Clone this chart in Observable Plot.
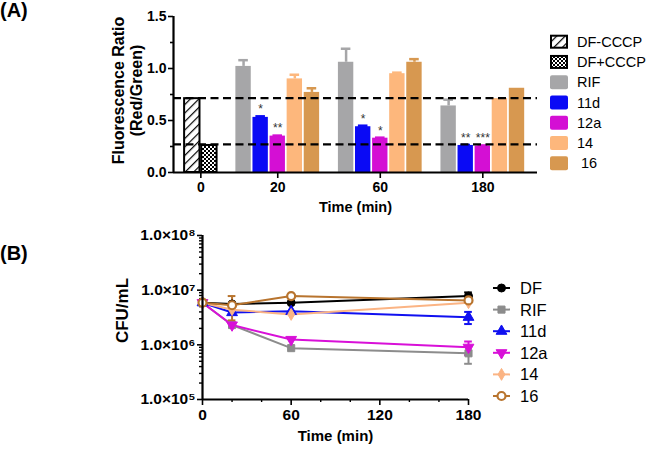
<!DOCTYPE html>
<html><head><meta charset="utf-8">
<script src="https://cdn.jsdelivr.net/npm/d3@7"></script>
<script src="https://cdn.jsdelivr.net/npm/@observablehq/plot@0.6"></script>
<style>
body{margin:0;background:#fff;}
#wrap{position:relative;width:647px;height:452px;overflow:hidden;font-family:"Liberation Sans",Arial,sans-serif;}
.panel{position:absolute;left:0;}
.plab{position:absolute;left:0;font-weight:bold;font-size:20px;line-height:20px;}
.leg{position:absolute;}
</style></head><body>
<svg width="0" height="0" style="position:absolute">
<defs>
<pattern id="hatch" patternUnits="userSpaceOnUse" width="6" height="6" patternTransform="rotate(45)">
<rect width="6" height="6" fill="#fff"/><line x1="0" y1="0" x2="0" y2="6" stroke="#000" stroke-width="2.4"/>
</pattern>
<pattern id="checker" patternUnits="userSpaceOnUse" width="4" height="4">
<rect width="4" height="4" fill="#000"/><rect width="2" height="2" fill="#fff"/><rect x="2" y="2" width="2" height="2" fill="#fff"/>
</pattern>
</defs>
</svg>
<div id="wrap">
<div class="plab" style="top:0px">(A)</div>
<div class="plab" style="top:243px">(B)</div>
</div>
<script>
// ---------- Panel A data ----------
const ctrlSeries = ["DF-CCCP", "DF+CCCP"];
const ctrlValues = [0.71, 0.26];
const drugSeries = ["RIF", "11d", "12a", "14", "16"];
const drugTimes = ["20", "60", "180"];
const drugValues = [
  [1.02, 1.06, 0.64],   // RIF
  [0.53, 0.44, 0.26],   // 11d
  [0.35, 0.33, 0.255],  // 12a
  [0.90, 0.95, 0.71],   // 14
  [0.77, 1.06, 0.81]    // 16
];
const drugErrors = [
  [0.06, 0.13, 0.06],
  [0.01, 0.01, 0.005],
  [0.005, 0.005, 0.005],
  [0.04, 0.01, 0.0],
  [0.04, 0.03, 0.0]
];
const drugSig = [
  ["", "", ""],
  ["*", "*", "**"],
  ["**", "*", "***"],
  ["", "", ""],
  ["", "", ""]
];
const thresholdsA = [0.715, 0.27];
const yTicksA = [0, 0.5, 1.0, 1.5];
const yMinorA = [0.25, 0.75, 1.25];
const fillA = {"DF-CCCP": "url(#hatch)", "DF+CCCP": "url(#checker)", "RIF": "#a6a6a8", "11d": "#0a0af5", "12a": "#d40fd4", "14": "#fdb77c", "16": "#d79850"};

// ---------- Panel B data ----------
const timesB = [0, 20, 60, 180];
const seriesB = ["DF", "RIF", "11d", "12a", "14", "16"];
const cfuB = [
  [5.9e6, 5.6e6, 5.9e6, 7.8e6],  // DF
  [5.9e6, 2.3e6, 8.7e5, 7.0e5],  // RIF
  [5.9e6, 3.9e6, 4.1e6, 3.2e6],  // 11d
  [5.9e6, 2.3e6, 1.25e6, 9.0e5], // 12a
  [5.9e6, 4.4e6, 3.6e6, 5.9e6],  // 14
  [5.9e6, 5.3e6, 7.8e6, 6.5e6]   // 16
];
const errB = [
  [0, 0, 0, 1.3e6],
  [0, 0, 0, 2.5e5],
  [0, 0, 0, 0.8e6],
  [0, 0, 0, 2.5e5],
  [0, 0, 0, 0],
  [0, 2.5e6, 0, 0]
];
const colorB = {"DF": "#000000", "RIF": "#8c8c8c", "11d": "#1010f0", "12a": "#d810d8", "14": "#fbb484", "16": "#b8742e"};
const yTicksB = [1e5, 1e6, 1e7, 1e8];
const xTicksB = [0, 60, 120, 180];
const xMinorB = [20, 40, 80, 100, 140, 160];

const FONT = '"Liberation Sans", Arial, sans-serif';

// ---------- build panel A table (slot layout) ----------
const bars = [];
const groupTicks = [];
let slot = 0;
{
  const start = slot;
  ctrlSeries.forEach((s, i) => bars.push({slot: slot++, series: s, value: ctrlValues[i], err: 0, sig: "", patterned: true}));
  groupTicks.push({label: "0", pos: (start + slot) / 2});
  slot++;
}
drugTimes.forEach((t, ti) => {
  const start = slot;
  drugSeries.forEach((s, si) => bars.push({slot: slot++, series: s, value: drugValues[si][ti], err: drugErrors[si][ti], sig: drugSig[si][ti], patterned: false}));
  groupTicks.push({label: t, pos: (start + slot) / 2});
  slot++;
});
const xDomainA = [-0.6, slot - 1 + 0.7];
const tickLabelA = new Map(groupTicks.map(d => [d.pos, d.label]));
const inset = 0.05;

const plotA = Plot.plot({
  width: 647, height: 220,
  marginLeft: 173, marginRight: 110, marginTop: 16, marginBottom: 48,
  x: {domain: xDomainA, label: null},
  y: {domain: [0, 1.5], label: null},
  color: {type: "identity"},
  style: {fontFamily: FONT, background: "transparent", color: "#000"},
  marks: [
    Plot.rect(bars, {x1: d => d.slot + inset, x2: d => d.slot + 1 - inset, y1: d => 0, y2: "value",
      fill: d => fillA[d.series], stroke: d => d.patterned ? "#000" : "none", strokeWidth: 2}),
    Plot.ruleX(bars.filter(d => d.err > 0), {x: d => d.slot + 0.5, y1: "value", y2: d => d.value + d.err, stroke: d => fillA[d.series], strokeWidth: 2.5}),
    Plot.ruleY(bars.filter(d => d.err > 0), {y: d => d.value + d.err, x1: d => d.slot + 0.22, x2: d => d.slot + 0.78, stroke: d => fillA[d.series], strokeWidth: 2.5}),
    Plot.text(bars.filter(d => d.sig), {x: d => d.slot + 0.5, y: d => d.value + d.err, text: "sig", dy: -7, fontSize: 12, fill: "#333"}),
    Plot.ruleY(thresholdsA, {strokeDasharray: "8,4.5", strokeWidth: 2.3, stroke: "#000"}),
    Plot.axisY(yTicksA, {tickSize: 5, tickPadding: 2, tickFormat: d3.format(".1f"), fontSize: 14, fontWeight: "bold", strokeWidth: 1.6, label: null}),
    Plot.axisY(yMinorA, {tickSize: 3, tickFormat: () => "", strokeWidth: 1.6, label: null}),
    Plot.axisX(groupTicks.map(d => d.pos), {tickSize: 6, tickPadding: 4, tickFormat: d => tickLabelA.get(d), fontSize: 14, fontWeight: "bold", strokeWidth: 1.6, label: null}),
    Plot.ruleX([xDomainA[0]], {strokeWidth: 2.2}),
    Plot.ruleY([0], {strokeWidth: 2.2}),
    Plot.text(["Fluorescence Ratio\n(Red/Green)"], {frameAnchor: "left", textAnchor: "middle", lineAnchor: "middle", rotate: -90, dx: -46, dy: -4, fontSize: 16, fontWeight: "bold", lineHeight: 1.08}),
    Plot.text(["Time (min)"], {frameAnchor: "bottom", dy: 39, fontSize: 14.5, fontWeight: "bold"})
  ]
});
plotA.classList.add("panel");
plotA.style.top = "0px";

// ---------- panel B ----------
const rowsB = seriesB.flatMap((s, si) => timesB.map((t, ti) => ({series: s, t, v: cfuB[si][ti], e: errB[si][ti]})));
const triangleDown = {
  draw(context, size) {
    const y = -Math.sqrt(size / (Math.sqrt(3) * 3));
    context.moveTo(0, -y * 2);
    context.lineTo(-Math.sqrt(3) * y, y);
    context.lineTo(Math.sqrt(3) * y, y);
    context.closePath();
  }
};
const symbolB = {"DF": "circle", "RIF": "square", "11d": "triangle", "12a": triangleDown, "14": "diamond", "16": "circle"};
const d3SymbolB = {"DF": d3.symbolCircle, "RIF": d3.symbolSquare, "11d": d3.symbolTriangle, "12a": triangleDown, "14": d3.symbolDiamond, "16": d3.symbolCircle};
const supDigits = {5: "⁵", 6: "⁶", 7: "⁷", 8: "⁸"};
const yMinorB = [1e5, 1e6, 1e7].flatMap(d => [2, 3, 4, 5, 6, 7, 8, 9].map(k => k * d));

const dotMarks = seriesB.map(s => {
  const hollow = s === "16";
  return Plot.dot(rowsB.filter(d => d.series === s), {x: "t", y: "v", symbol: symbolB[s], r: s === "14" ? 3.6 : 4,
    fill: hollow ? "#fff" : colorB[s], stroke: colorB[s], strokeWidth: hollow ? 2.2 : 1});
});
const errRowsB = rowsB.filter(d => d.e > 0);

const plotB = Plot.plot({
  width: 647, height: 232,
  marginLeft: 202, marginRight: 179, marginTop: 15, marginBottom: 53,
  x: {domain: [0, 180], label: null},
  y: {type: "log", domain: [1e5, 1e8], label: null},
  color: {type: "identity"},
  style: {fontFamily: FONT, background: "transparent", color: "#000"},
  marks: [
    Plot.axisY(yTicksB, {tickSize: 5, tickPadding: 2, tickFormat: d => "1.0×10" + supDigits[Math.round(Math.log10(d))], fontSize: 15.5, fontWeight: "bold", strokeWidth: 1.6, label: null}),
    Plot.axisY(yMinorB, {tickSize: 3, tickFormat: () => "", strokeWidth: 1.4, label: null}),
    Plot.axisX(xTicksB, {tickSize: 6, tickPadding: 3, fontSize: 15.5, fontWeight: "bold", strokeWidth: 1.6, label: null}),
    Plot.axisX(xMinorB, {tickSize: 3, tickFormat: () => "", strokeWidth: 1.4, label: null}),
    Plot.line(rowsB, {x: "t", y: "v", z: "series", stroke: d => colorB[d.series], strokeWidth: 2}),
    Plot.ruleX(errRowsB, {x: "t", y1: d => d.v - d.e, y2: d => d.v + d.e, stroke: d => colorB[d.series], strokeWidth: 2}),
    Plot.ruleY(errRowsB, {y: d => d.v + d.e, x1: d => d.t - 2.6, x2: d => d.t + 2.6, stroke: d => colorB[d.series], strokeWidth: 2}),
    Plot.ruleY(errRowsB, {y: d => d.v - d.e, x1: d => d.t - 2.6, x2: d => d.t + 2.6, stroke: d => colorB[d.series], strokeWidth: 2}),
    ...dotMarks,
    Plot.ruleX([0], {strokeWidth: 2.2}),
    Plot.ruleY([1e5], {strokeWidth: 2.2}),
    Plot.text(["CFU/mL"], {frameAnchor: "left", textAnchor: "middle", rotate: -90, dx: -80, dy: -7, fontSize: 17, fontWeight: "bold"}),
    Plot.text(["Time (min)"], {frameAnchor: "bottom", dy: 41, fontSize: 15, fontWeight: "bold"})
  ]
});
plotB.classList.add("panel");
plotB.style.top = "220px";

const wrap = document.getElementById("wrap");
wrap.appendChild(plotA);
wrap.appendChild(plotB);

// ---------- legend A ----------
const legA = d3.create("svg").attr("class", "leg").attr("width", 102).attr("height", 150)
  .style("left", "545px").style("top", "30px").style("font-family", FONT);
ctrlSeries.concat(drugSeries).forEach((s, i) => {
  const cy = 11.7 + i * 20.25;
  const g = legA.append("g");
  const patterned = ctrlSeries.includes(s);
  if (patterned) {
    g.append("rect").attr("x", 6).attr("y", cy - 6).attr("width", 16).attr("height", 12)
      .attr("fill", fillA[s]).attr("stroke", "#000").attr("stroke-width", 2);
  } else {
    g.append("rect").attr("x", 5).attr("y", cy - 7).attr("width", 18).attr("height", 14).attr("rx", 2)
      .attr("fill", fillA[s]);
  }
  g.append("text").attr("x", s === "16" ? 36 : 32).attr("y", cy).attr("dy", "0.36em")
    .attr("font-size", 14.5).text(s);
});
wrap.appendChild(legA.node());

// ---------- legend B ----------
const legB = d3.create("svg").attr("class", "leg").attr("width", 159).attr("height", 140)
  .style("left", "488px").style("top", "275px").style("font-family", FONT);
seriesB.forEach((s, i) => {
  const cy = 13 + i * 21.6;
  const g = legB.append("g");
  g.append("line").attr("x1", 5).attr("x2", 22).attr("y1", cy).attr("y2", cy).attr("stroke", colorB[s]).attr("stroke-width", 2);
  const hollow = s === "16";
  const r = s === "14" ? 3.6 : 4;
  g.append("path").attr("transform", `translate(13.5,${cy})`)
    .attr("d", d3.symbol(d3SymbolB[s], Math.PI * r * r)())
    .attr("fill", hollow ? "#fff" : colorB[s]).attr("stroke", colorB[s]).attr("stroke-width", hollow ? 2.2 : 1);
  g.append("text").attr("x", 32).attr("y", cy).attr("dy", "0.36em").attr("font-size", 16.5).text(s);
});
wrap.appendChild(legB.node());
</script>
</body></html>
